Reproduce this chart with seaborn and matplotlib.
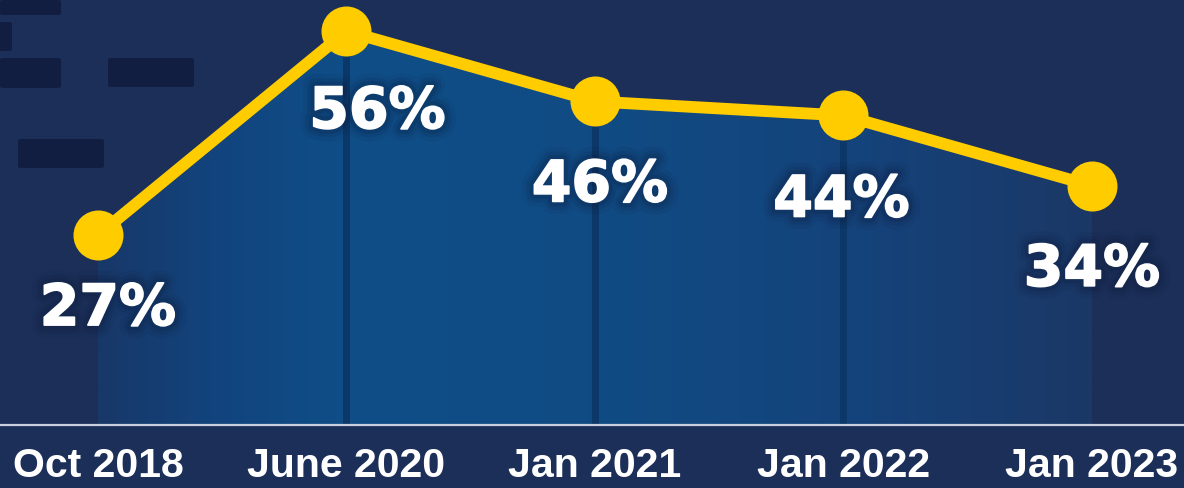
import numpy as np
import matplotlib
matplotlib.use("Agg")
import matplotlib.pyplot as plt
import seaborn as sns
from matplotlib.colors import LinearSegmentedColormap
from matplotlib.patches import FancyBboxPatch
import matplotlib.patheffects as pe

# Survey waves and share of respondents (%)
dates = ["Oct 2018", "June 2020", "Jan 2021", "Jan 2022", "Jan 2023"]
values = [27, 56, 46, 44, 34]
labels = ["27%", "56%", "46%", "44%", "34%"]

BG = "#1c2f59"
YELLOW = "#ffcc00"

sns.set_theme(style="white")
plt.rcParams["font.family"] = ["Liberation Sans", "DejaVu Sans"]

fig = plt.figure(figsize=(11.84, 4.88), dpi=100, facecolor=BG)

# decorative blocks in the upper-left corner (figure pixels: x0, y_top, x1, y_bottom)
blocks = [(0, 0, 61, 15), (-6, 22, 12, 51), (0, 58, 61, 88), (108, 58, 194, 87), (18, 139, 104, 168)]
W, H = 1184, 488
for x0, yt, x1, yb in blocks:
    fig.patches.append(FancyBboxPatch(
        (x0 / W, 1 - yb / H), (x1 - x0) / W, (yb - yt) / H,
        boxstyle="round,pad=0,rounding_size=0.003", transform=fig.transFigure,
        facecolor="#111e42", edgecolor="none", zorder=0))

ax = fig.add_axes([0, 63 / H, 1, 425 / H])
ax.set_facecolor("none")

xs = np.arange(len(dates))

# area under the line, shaded with a horizontal blue gradient
area = ax.fill_between(xs, values, 0, facecolor="none", edgecolor="none", zorder=1)
grad_cmap = LinearSegmentedColormap.from_list(
    "band", [(0.0, "#183868"), (0.12, "#12447e"), (0.25, "#0f4e88"),
             (0.45, "#104c85"), (0.62, "#124880"), (0.78, "#15427a"),
             (1.0, "#1b3866")])
grad = np.linspace(0, 1, 512).reshape(1, -1)
img = ax.imshow(grad, cmap=grad_cmap, aspect="auto",
                extent=[xs[0], xs[-1], 0, max(values)], zorder=1)
img.set_clip_path(area.get_paths()[0], transform=ax.transData)

# drop lines under the interior points
ax.vlines(xs[1:-1], 0, values[1:-1], colors="#0b3868", linewidth=5, zorder=2)

sns.lineplot(x=dates, y=values, sort=False, ax=ax, color=YELLOW, linewidth=8.5,
             marker="o", markersize=36, markeredgewidth=0, zorder=3)

glow = [pe.Stroke(linewidth=18, foreground="#0b1835", alpha=0.07),
        pe.Stroke(linewidth=12, foreground="#0b1835", alpha=0.11),
        pe.Stroke(linewidth=7, foreground="#0b1835", alpha=0.16),
        pe.Stroke(linewidth=1.2, foreground="white"),
        pe.Normal()]

# label offsets (pixels right, pixels below the point to the text baseline)
offsets = [(10, 90), (31, 97), (5, 100), (-2, 101), (0, 100)]
for x, v, lab, (dx, dy) in zip(xs, values, labels, offsets):
    ax.annotate(lab, (x, v), xytext=(dx * 0.72, -dy * 0.72), textcoords="offset points",
                ha="center", va="baseline", color="white", fontsize=41,
                fontweight="bold", family=["DejaVu Sans"], path_effects=glow, zorder=4)

ax.set_xlim(-98 / 248.5, (W - 98) / 248.5)
ax.set_ylim(0, 60.42)
ax.set_yticks([])
ax.set_xticks(xs)
ax.set_xticklabels(dates, color="white", fontsize=29.5, fontweight="bold")
ax.tick_params(axis="x", length=0, pad=16)
ax.set_xlabel("")
ax.set_ylabel("")
for s in ["top", "left", "right"]:
    ax.spines[s].set_visible(False)
ax.spines["bottom"].set_color("#c9d1de")
ax.spines["bottom"].set_linewidth(1.6)
ax.spines["bottom"].set_zorder(5)

fig.savefig("out.png", dpi=100, facecolor=BG)
